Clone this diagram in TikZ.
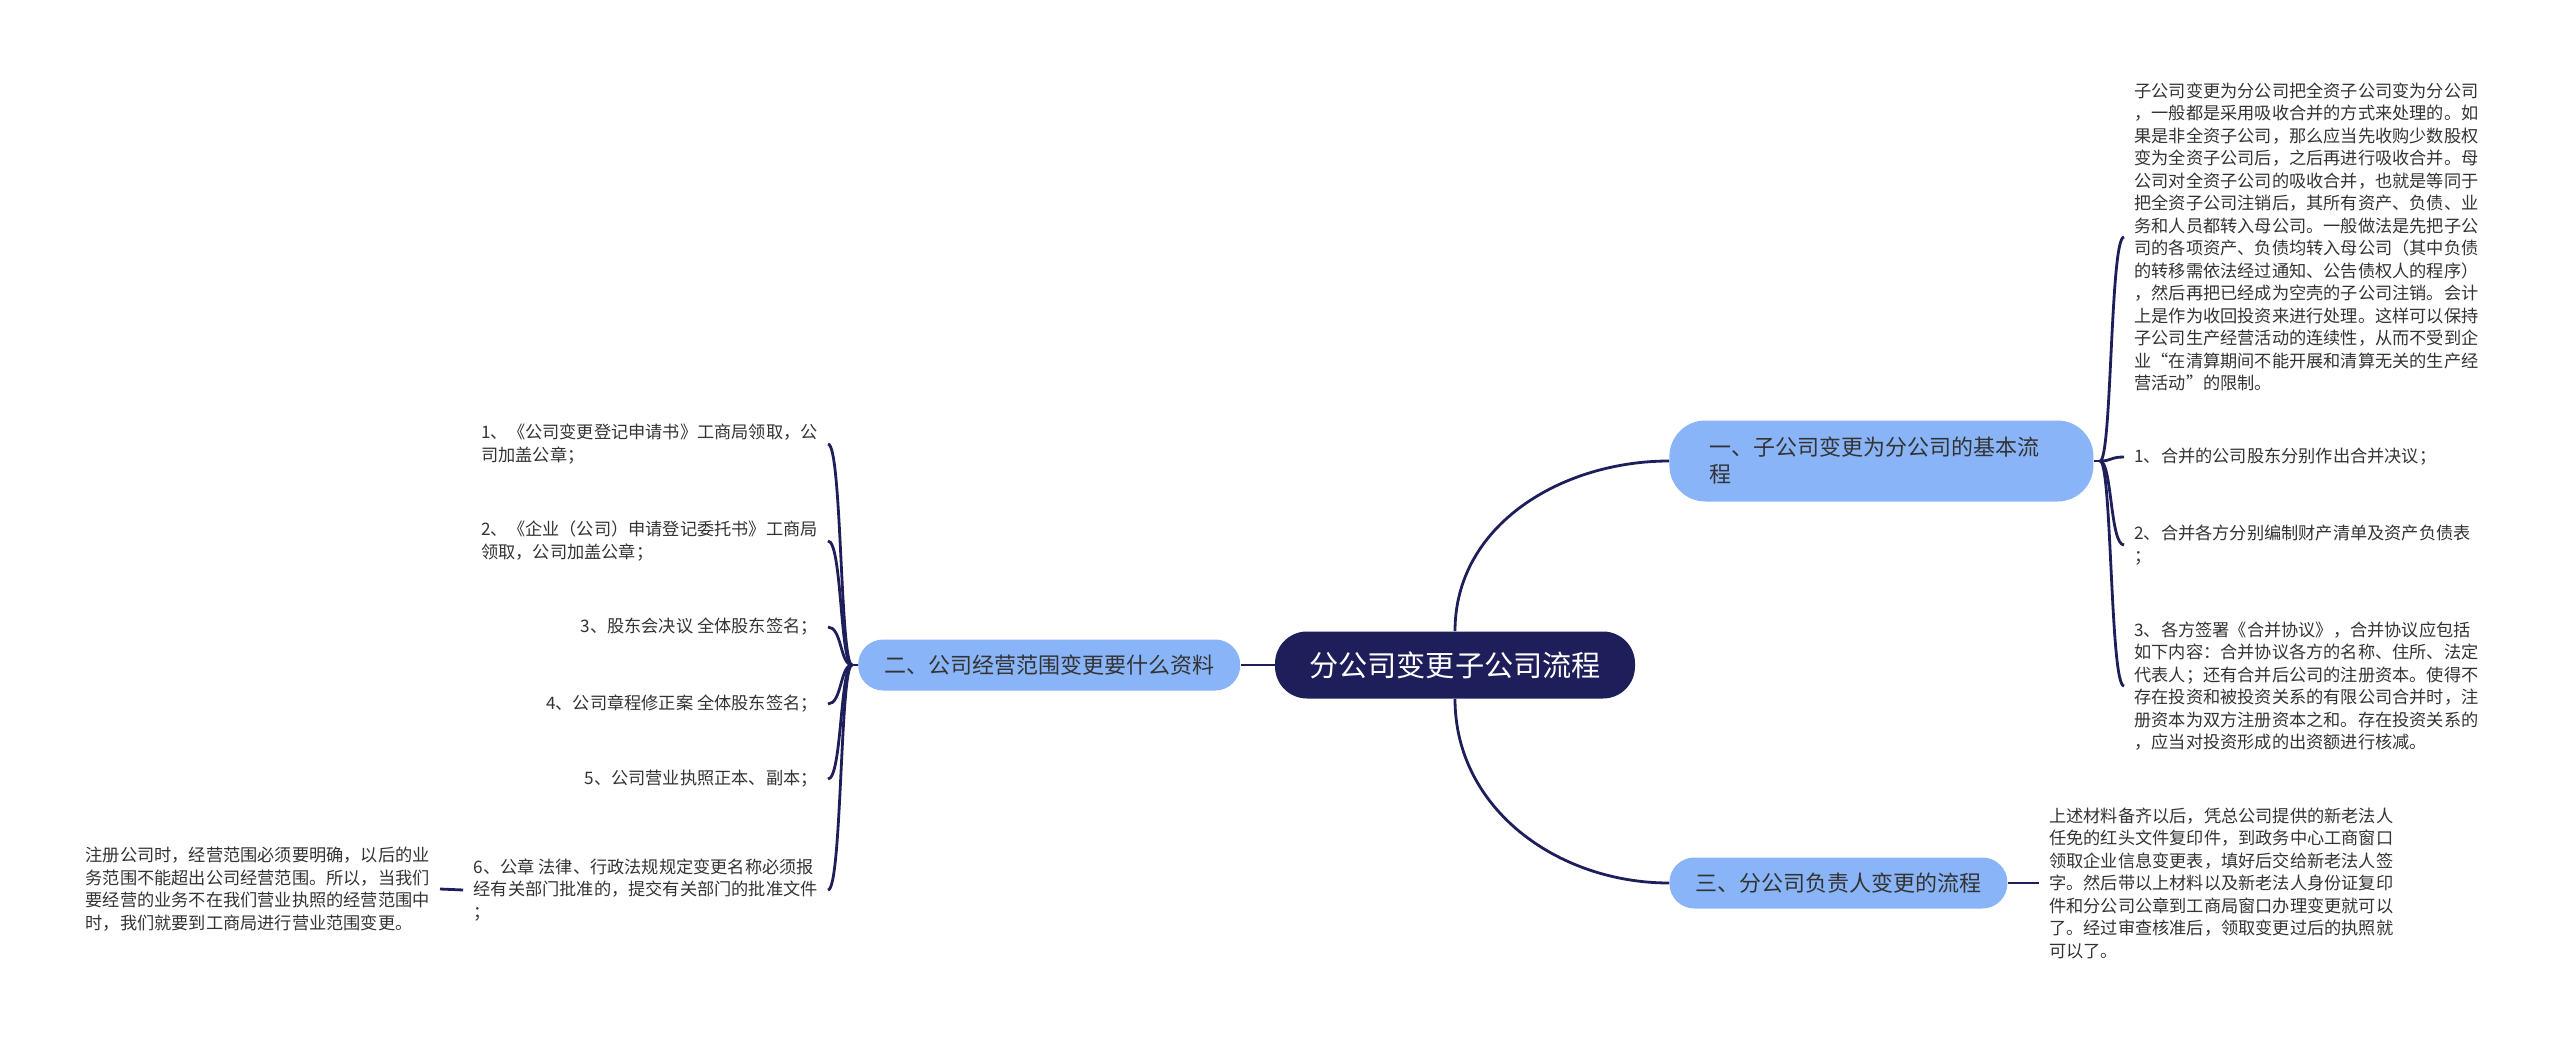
\documentclass[tikz,border=0pt]{standalone}
\usepackage{fontspec}
\setmainfont{Noto Sans CJK SC}
\usepackage{xcolor}
\usepackage{tikz}
\usetikzlibrary{positioning, calc}
\definecolor{navy}{RGB}{30,30,90}
\definecolor{bluefill}{RGB}{138,180,248}
\definecolor{txtgray}{RGB}{51,51,51}
\tikzstyle{topic}    = [rectangle, rounded corners=16pt, fill=navy, text=white, minimum height=33.5pt, inner xsep=17pt, inner ysep=0pt, font=\fontsize{14.6}{17}\selectfont]
\tikzstyle{subtopic} = [rectangle, rounded corners=12.5pt, fill=bluefill, text=txtgray, minimum height=25.5pt, inner xsep=13pt, inner ysep=0pt, font=\fontsize{11}{13.5}\selectfont]
\tikzstyle{leaf}     = [inner xsep=5pt, inner ysep=0pt, align=left, text=txtgray, font=\fontsize{8.6}{11.25}\selectfont]
\tikzstyle{link}     = [draw=navy, line width=1.4pt]

\begin{document}
\begin{tikzpicture}[x=0.5pt, y=-0.5pt]
\useasboundingbox (0,0) rectangle (2560,1043);

% centre and branches
\node (root) [topic] at (1455,665) {分公司变更子公司流程};
\node (b2) [subtopic, left=17pt of root] {二、公司经营范围变更要什么资料};
\node (b1) [subtopic, anchor=west, rounded corners=18pt, minimum height=40.5pt, text width=172pt, inner xsep=20pt, align=left] at (1669,461) {一、子公司变更为分公司的基本流\\程};
\node (b3) [subtopic, anchor=west] at (1669,883) {三、分公司负责人变更的流程};

% right side, branch one
\node (p1) [leaf, anchor=west] at (2124,237) {子公司变更为分公司把全资子公司变为分公司\\，一般都是采用吸收合并的方式来处理的。如\\果是非全资子公司，那么应当先收购少数股权\\变为全资子公司后，之后再进行吸收合并。母\\公司对全资子公司的吸收合并，也就是等同于\\把全资子公司注销后，其所有资产、负债、业\\务和人员都转入母公司。一般做法是先把子公\\司的各项资产、负债均转入母公司（其中负债\\的转移需依法经过通知、公告债权人的程序）\\，然后再把已经成为空壳的子公司注销。会计\\上是作为收回投资来进行处理。这样可以保持\\子公司生产经营活动的连续性，从而不受到企\\业“在清算期间不能开展和清算无关的生产经\\营活动”的限制。};
\node (r1) [leaf, anchor=west] at (2124,457) {1、合并的公司股东分别作出合并决议；};
\node (r2) [leaf, anchor=west] at (2124,545) {2、合并各方分别编制财产清单及资产负债表\\；};
\node (r3) [leaf, anchor=west] at (2124,686) {3、各方签署《合并协议》，合并协议应包括\\如下内容：合并协议各方的名称、住所、法定\\代表人；还有合并后公司的注册资本。使得不\\存在投资和被投资关系的有限公司合并时，注\\册资本为双方注册资本之和。存在投资关系的\\，应当对投资形成的出资额进行核减。};

% right side, branch three
\node (p3) [leaf, right=15.5pt of b3] {上述材料备齐以后，凭总公司提供的新老法人\\任免的红头文件复印件，到政务中心工商窗口\\领取企业信息变更表，填好后交给新老法人签\\字。然后带以上材料以及新老法人身份证复印\\件和分公司公章到工商局窗口办理变更就可以\\了。经过审查核准后，领取变更过后的执照就\\可以了。};

% left side, branch two
\node (l1) [leaf, anchor=east] at (828,444) {1、《公司变更登记申请书》工商局领取，公\\司加盖公章；};
\node (l2) [leaf, anchor=east] at (828,541) {2、《企业（公司）申请登记委托书》工商局\\领取，公司加盖公章；};
\node (l3) [leaf, anchor=east] at (828,627) {3、股东会决议 全体股东签名；};
\node (l4) [leaf, anchor=east] at (828,704) {4、公司章程修正案 全体股东签名；};
\node (l5) [leaf, anchor=east] at (828,779) {5、公司营业执照正本、副本；};
\node (l6) [leaf, anchor=east] at (828,890) {6、公章 法律、行政法规规定变更名称必须报\\经有关部门批准的，提交有关部门的批准文件\\；};
\node (pl) [leaf, anchor=east] at (440,889) {注册公司时，经营范围必须要明确，以后的业\\务范围不能超出公司经营范围。所以，当我们\\要经营的业务不在我们营业执照的经营范围中\\时，我们就要到工商局进行营业范围变更。};

\coordinate (j1) at (2100,461);
\coordinate (j2) at (852,665);

% connectors
\draw [link] (root.west) -- (b2.east);
\draw [link] (root.north) to[out=90, in=180] (b1.west);
\draw [link] (root.south) to[out=-90, in=180] (b3.west);
\draw [link] (b3.east) -- (p3.west);
\draw [link] (b1.east) -- (j1);
\draw [link] (j1) .. controls +(12,0) and +(-14,0) .. (p1.west);
\draw [link] (j1) .. controls +(12,0) and +(-14,0) .. (r1.west);
\draw [link] (j1) .. controls +(12,0) and +(-14,0) .. (r2.west);
\draw [link] (j1) .. controls +(12,0) and +(-14,0) .. (r3.west);
\draw [link] (b2.west) -- (j2);
\draw [link] (j2) .. controls +(-12,0) and +(14,0) .. (l1.east);
\draw [link] (j2) .. controls +(-12,0) and +(14,0) .. (l2.east);
\draw [link] (j2) .. controls +(-12,0) and +(14,0) .. (l3.east);
\draw [link] (j2) .. controls +(-12,0) and +(14,0) .. (l4.east);
\draw [link] (j2) .. controls +(-12,0) and +(14,0) .. (l5.east);
\draw [link] (j2) .. controls +(-12,0) and +(14,0) .. (l6.east);
\draw [link] (l6.west) -- (pl.east);
\end{tikzpicture}
\end{document}
